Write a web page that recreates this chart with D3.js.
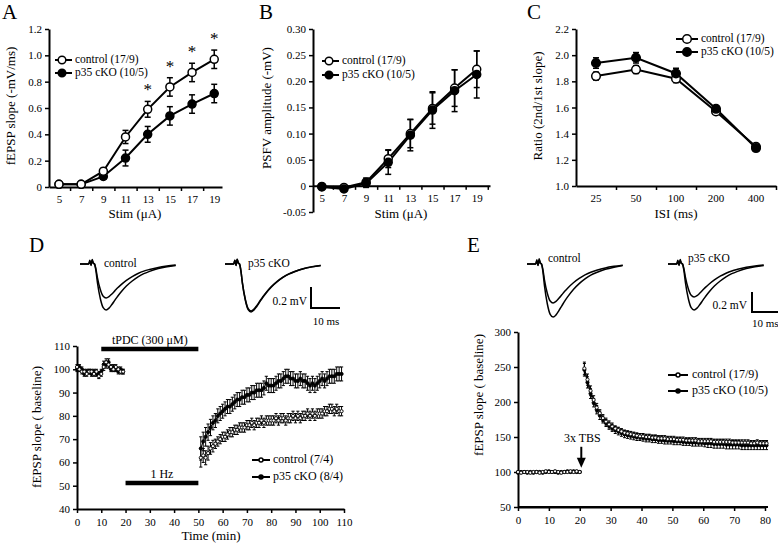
<!DOCTYPE html>
<html><head><meta charset="utf-8">
<script src="https://cdn.jsdelivr.net/npm/d3@7"></script>
<style>
body{margin:0;background:#fff}
svg{display:block}
text{font-family:"Liberation Serif","Times New Roman",serif;fill:#000}
</style>
</head><body>
<svg id="c" width="778" height="543"></svg>
<script>
// ---------------- DATA ----------------
// Panel A: input-output fEPSP slope
const stimLevels = [5, 7, 9, 11, 13, 15, 17, 19];
const aControl    = [0.02, 0.02, 0.12, 0.38, 0.59, 0.76, 0.87, 0.97];
const aControlErr = [0.01, 0.01, 0.02, 0.05, 0.06, 0.07, 0.07, 0.07];
const aCko        = [0.02, 0.02, 0.08, 0.22, 0.40, 0.54, 0.63, 0.71];
const aCkoErr     = [0.01, 0.01, 0.02, 0.06, 0.06, 0.07, 0.07, 0.07];
const aSignificant = [13, 15, 17, 19];
const aYTicks = [0, 0.2, 0.4, 0.6, 0.8, 1.0, 1.2];

// Panel B: PSFV amplitude
const bControl    = [-0.001, -0.003, 0.007, 0.052, 0.100, 0.148, 0.187, 0.223];
const bControlErr = [0.003, 0.003, 0.008, 0.017, 0.027, 0.030, 0.035, 0.035];
const bCko        = [-0.002, -0.006, 0.005, 0.045, 0.097, 0.145, 0.182, 0.213];
const bCkoErr     = [0.003, 0.003, 0.008, 0.023, 0.030, 0.035, 0.040, 0.045];
const bYTicks = [-0.05, 0, 0.05, 0.10, 0.15, 0.20, 0.25, 0.30];

// Panel C: paired-pulse ratio
const isiLabels   = ["25", "50", "100", "200", "400"];
const cControl    = [1.84, 1.89, 1.82, 1.57, 1.30];
const cControlErr = [0.03, 0.03, 0.03, 0.02, 0.02];
const cCko        = [1.94, 1.98, 1.86, 1.59, 1.29];
const cCkoErr     = [0.04, 0.04, 0.04, 0.02, 0.02];
const cYTicks = [1.0, 1.2, 1.4, 1.6, 1.8, 2.0, 2.2];

// Panel D: tPDC + 1 Hz (min, % baseline)
const dBaseTimes = d3.range(0, 20);        // 0..19 min
const dPostTimes = d3.range(51, 110);      // 51..109 min
const dControlBase = [101,100,99,99,98,99,99,98,99,97,98,101,103,102,101,100,101,100,99,99];
const dCkoBase     = [100,101,100,98,99,99,98,99,98,98,99,102,102,103,100,101,100,99,100,99];
const dControlPost = [62,63,62,64,66,67,68,69,70,71,
                      71,72,73,73,74,74,75,75,75,76,
                      76,77,76,77,77,78,77,78,78,78,
                      78,79,78,79,79,78,79,79,80,79,
                      80,79,80,80,81,80,81,80,81,81,
                      81,82,82,83,83,82,83,82,82];
const dCkoPost     = [66,69,71,73,75,77,78,80,81,82,
                      83,84,84,85,86,87,87,88,88,89,
                      89,90,90,91,91,91,92,94,93,93,
                      93,94,95,95,96,97,97,96,96,95,
                      95,96,95,95,94,93,94,93,94,95,
                      96,95,96,97,97,97,98,98,98];
const dBaseErr     = [1,1,1,1,1,1,1,1,1,1,1,1.5,1.5,1.5,1,1,1,1,1,1];
const dControlPostErr = [4,3,3,3,2.5,2.5,2,2,2,2,
                         2,2,2,2,2,2,2,2,2,2,
                         2,2,2,2,2,2,2,2,2,2,
                         2,2,2,2,2,2,2,2,2,2,
                         2,2,2,2,2,2,2,2,2,2,
                         2,2,2,2,2,2,2,2,2];
const dCkoPostErr  = [5,4,4,3.5,3.5,3,3,3,3,3,
                      3,3,3,3,3,3,3,3,3,3,
                      3,3,3,3,3,3,3,3,3,3,
                      3,3,3,3,3,3,3,3,3,3,
                      3,3,3,3,3,3,3,3,3,3,
                      3,3,3,3,3,3,3,3,3];
const dXTicks = [0,10,20,30,40,50,60,70,80,90,100,110];
const dYTicks = [40,50,60,70,80,90,100,110];
const dBars = [ {label: "tPDC (300 \u03BCM)", from: 10, to: 50, level: 108.7},
                {label: "1 Hz",             from: 20, to: 50, level: 51.2} ];

// Panel E: TBS LTP
const eBaseTimes = d3.range(0, 21);           // 0..20 min
const ePostTimes = d3.range(21.5, 81, 1);     // 21.5..80.5 min
const eControlBase = [100,99,100,100,99,100,100,99,100,101,100,100,101,100,99,100,100,101,100,101,100];
const eCkoBase     = [99,100,100,99,100,99,100,100,99,100,101,100,100,99,100,100,101,100,101,100,100];
const eControlPost = [248,232,216,203,192,184,177,172,168,165,
                      162,160,158,156,155,154,153,152,151,151,
                      150,150,149,149,148,148,148,147,147,147,
                      146,146,146,145,145,145,145,144,144,144,
                      144,144,143,143,143,143,143,143,142,142,
                      142,142,142,142,141,141,142,141,141,141];
const eCkoPost     = [246,228,212,199,189,181,175,170,166,163,
                      160,158,156,154,153,152,151,150,150,149,
                      148,148,147,147,146,146,145,145,145,144,
                      144,144,143,143,143,142,142,142,142,141,
                      141,141,140,140,140,140,139,139,139,139,
                      139,138,138,138,138,138,138,138,138,138];
const eBaseErr     = [1.5,1.5,1.5,1.5,1.5,1.5,1.5,1.5,1.5,1.5,1.5,1.5,1.5,1.5,1.5,1.5,1.5,1.5,1.5,1.5,1.5];
const eControlPostErr = [9,8,7,6,6,5,5,5,5,5,
                         4,4,4,4,4,4,4,4,4,4,
                         4,4,4,4,4,4,4,4,4,4,
                         4,4,4,4,4,4,4,4,4,4,
                         4,4,4,4,4,4,4,4,4,4,
                         4,4,4,4,4,4,4,4,4,4];
const eCkoPostErr  = [9,8,7,6,6,6,5,5,5,5,
                      5,5,5,5,5,5,5,5,5,5,
                      5,5,5,5,5,5,5,5,5,5,
                      5,5,5,5,5,5,5,5,5,5,
                      6,6,6,6,6,6,6,6,6,6,
                      6,6,6,6,6,6,6,6,6,6];
const eXTicks = [0,10,20,30,40,50,60,70,80];
const eYTicks = [50,100,150,200,250,300];
const eArrow = {label: "3x TBS", time: 20.5, from: 136, to: 106};

// Example fEPSP traces (ms, normalized shape; amplitudes in mV)
const traceTimes = [0, 2, 3, 3.4, 3.8, 4.2, 4.6, 5, 5.5, 6, 7, 8, 9, 10, 11, 12, 13, 14, 16, 18, 20, 22, 24, 27, 30, 33];
const traceShape = [0, 0, 0, 0.08, -0.03, 0.1, 0.02, 0, -0.15, -0.4, -0.75, -0.95, -1, -0.96, -0.88, -0.79, -0.7, -0.62, -0.48, -0.37, -0.28, -0.21, -0.16, -0.1, -0.06, -0.03];
const dControlAmps = [0.46, 0.34];
const dCkoAmps     = [0.48, 0.47];
const eControlAmps = [0.53, 0.39];
const eCkoAmps     = [0.46, 0.33];

// Legend labels
const legendABC = ["control (17/9)", "p35 cKO (10/5)"];
const legendD   = ["control (7/4)", "p35 cKO (8/4)"];
const legendE   = ["control (17/9)", "p35 cKO (10/5)"];

// ---------------- DRAWING ----------------
const FONT = '"Liberation Serif","Times New Roman",serif';
const svg = d3.select("#c");
svg.append("rect").attr("width", 778).attr("height", 543).attr("fill", "#fff");

function styleAxis(g, fs) {
  g.attr("font-family", FONT).attr("font-size", fs || 11);
  g.select(".domain").attr("stroke", "#000").attr("stroke-width", 2);
  g.selectAll(".tick line").attr("stroke", "#000").attr("stroke-width", 1.5);
  g.selectAll(".tick text").attr("fill", "#000");
}

function yLabel(x, y, txt, fs) {
  svg.append("text").attr("transform", `translate(${x},${y}) rotate(-90)`)
    .attr("text-anchor", "middle").attr("dominant-baseline", "middle")
    .attr("font-size", fs || 13).text(txt);
}
function xLabel(x, y, txt, fs) {
  svg.append("text").attr("x", x).attr("y", y).attr("text-anchor", "middle")
    .attr("font-size", fs || 13).text(txt);
}
function panelLetter(x, y, t) {
  svg.append("text").attr("x", x).attr("y", y).attr("font-size", 21).text(t);
}

function errBars(g, xs, vals, errs, x, y, cap, sw) {
  xs.forEach((xv, i) => {
    const cx = x(xv), y1 = y(vals[i] - errs[i]), y2 = y(vals[i] + errs[i]);
    g.append("line").attr("x1", cx).attr("x2", cx).attr("y1", y1).attr("y2", y2)
      .attr("stroke", "#000").attr("stroke-width", sw);
    [y1, y2].forEach(yy => g.append("line").attr("x1", cx - cap).attr("x2", cx + cap)
      .attr("y1", yy).attr("y2", yy).attr("stroke", "#000").attr("stroke-width", sw));
  });
}
function seriesLine(g, xs, vals, x, y, sw) {
  g.append("path").datum(xs.map((xv, i) => [xv, vals[i]]))
    .attr("fill", "none").attr("stroke", "#000").attr("stroke-width", sw)
    .attr("d", d3.line().x(d => x(d[0])).y(d => y(d[1])));
}
function markers(g, xs, vals, x, y, r, filled, sw) {
  xs.forEach((xv, i) => g.append("circle").attr("cx", x(xv)).attr("cy", y(vals[i])).attr("r", r)
    .attr("fill", filled ? "#000" : "#fff").attr("stroke", "#000").attr("stroke-width", sw));
}
function legend(x0, x1, xm, xt, rows, labels, r, fs, sw) {
  labels.forEach((lab, i) => {
    const yy = rows[i];
    svg.append("line").attr("x1", x0).attr("x2", x1).attr("y1", yy).attr("y2", yy)
      .attr("stroke", "#000").attr("stroke-width", sw);
    svg.append("circle").attr("cx", xm).attr("cy", yy).attr("r", r)
      .attr("fill", i === 0 ? "#fff" : "#000").attr("stroke", "#000").attr("stroke-width", 1.5);
    svg.append("text").attr("x", xt).attr("y", yy).attr("dominant-baseline", "middle")
      .attr("font-size", fs).text(lab);
  });
}

// ---------- Panel A ----------
(function () {
  const x = d3.scaleLinear().domain([4.1, 19.7]).range([49, 222]);
  const y = d3.scaleLinear().domain([0, 1.2]).range([187, 29]);
  const g = svg.append("g");
  const ya = g.append("g").attr("transform", "translate(49,0)")
    .call(d3.axisLeft(y).tickValues(aYTicks).tickSize(4).tickSizeOuter(0)
      .tickFormat(d => d === 0 ? "0" : d.toFixed(1)));
  styleAxis(ya);
  const xa = g.append("g").attr("transform", "translate(0,187)")
    .call(d3.axisBottom(x).tickValues([6, 8, 10, 12, 14, 16, 18]).tickSize(4).tickSizeOuter(0).tickFormat(""));
  styleAxis(xa);
  const xl = g.append("g").attr("transform", "translate(0,187)")
    .call(d3.axisBottom(x).tickValues(stimLevels).tickSize(0).tickPadding(8).tickFormat(d3.format("d")));
  styleAxis(xl); xl.select(".domain").remove();

  errBars(g, stimLevels, aCko, aCkoErr, x, y, 3, 1.5);
  errBars(g, stimLevels, aControl, aControlErr, x, y, 3, 1.5);
  seriesLine(g, stimLevels, aCko, x, y, 2);
  seriesLine(g, stimLevels, aControl, x, y, 2);
  markers(g, stimLevels, aCko, x, y, 4, true, 1.5);
  markers(g, stimLevels, aControl, x, y, 4, false, 1.5);
  aSignificant.forEach(s => {
    const i = stimLevels.indexOf(s);
    g.append("text").attr("x", x(s)).attr("y", y(aControl[i] + aControlErr[i]) - 6)
      .attr("text-anchor", "middle").attr("font-size", 17).text("*");
  });
  legend(55, 72, 62, 75, [60, 73], legendABC, 3.8, 11.5, 2);
  yLabel(12, 106, "fEPSP slope (-mV/ms)");
  xLabel(135, 218, "Stim (\u03BCA)");
  panelLetter(2, 19, "A");
})();

// ---------- Panel B ----------
(function () {
  const x = d3.scaleLinear().domain([4.2, 20.2]).range([313, 490]);
  const y = d3.scaleLinear().domain([-0.05, 0.30]).range([212, 29]);
  const g = svg.append("g");
  const ya = g.append("g").attr("transform", "translate(313,0)")
    .call(d3.axisLeft(y).tickValues(bYTicks).tickSize(4).tickSizeOuter(0)
      .tickFormat(d => Math.abs(d) < 1e-9 ? "0" : d.toFixed(2)));
  styleAxis(ya);
  const xa = g.append("g").attr("transform", `translate(0,${y(0)})`)
    .call(d3.axisBottom(x).tickValues([6, 8, 10, 12, 14, 16, 18, 20]).tickSize(4).tickSizeOuter(0).tickFormat(""));
  styleAxis(xa);
  const xl = g.append("g").attr("transform", `translate(0,${y(0)})`)
    .call(d3.axisBottom(x).tickValues(stimLevels).tickSize(0).tickPadding(8).tickFormat(d3.format("d")));
  styleAxis(xl); xl.select(".domain").remove();

  errBars(g, stimLevels, bCko, bCkoErr, x, y, 3, 1.5);
  errBars(g, stimLevels, bControl, bControlErr, x, y, 3, 1.5);
  seriesLine(g, stimLevels, bControl, x, y, 2);
  seriesLine(g, stimLevels, bCko, x, y, 2);
  markers(g, stimLevels, bControl, x, y, 4, false, 1.5);
  markers(g, stimLevels, bCko, x, y, 4, true, 1.5);
  legend(322, 339, 329, 342, [61, 75], legendABC, 3.8, 11.5, 2);
  yLabel(268, 108, "PSFV amplitude (-mV)");
  xLabel(401, 218, "Stim (\u03BCA)");
  panelLetter(259, 19, "B");
})();

// ---------- Panel C ----------
(function () {
  const x = d3.scaleBand().domain(isiLabels).range([576, 776]);
  const y = d3.scaleLinear().domain([1.0, 2.2]).range([186, 29]);
  const g = svg.append("g");
  const xFn = d => x(d) + x.bandwidth() / 2;
  const ya = g.append("g").attr("transform", "translate(576,0)")
    .call(d3.axisLeft(y).tickValues(cYTicks).tickSize(4).tickSizeOuter(0).tickFormat(d3.format(".1f")));
  styleAxis(ya);
  const xa = g.append("g").attr("transform", "translate(0,186)")
    .call(d3.axisBottom(d3.scaleLinear().domain([0, 5]).range([576, 776]))
      .tickValues([1, 2, 3, 4, 5]).tickSize(4).tickSizeOuter(0).tickFormat(""));
  styleAxis(xa);
  const xl = g.append("g").attr("transform", "translate(0,186)")
    .call(d3.axisBottom(x).tickSize(0).tickPadding(8));
  styleAxis(xl); xl.select(".domain").remove();

  errBars(g, isiLabels, cCko, cCkoErr, xFn, y, 3, 1.5);
  errBars(g, isiLabels, cControl, cControlErr, xFn, y, 3, 1.5);
  seriesLine(g, isiLabels, cControl, xFn, y, 2);
  seriesLine(g, isiLabels, cCko, xFn, y, 2);
  markers(g, isiLabels, cControl, xFn, y, 4.3, false, 1.5);
  markers(g, isiLabels, cCko, xFn, y, 4.3, true, 1.5);
  legend(676, 698, 687, 701, [39, 52], legendABC, 4.3, 11.5, 2);
  yLabel(539, 106, "Ratio (2nd/1st slope)");
  xLabel(676, 218, "ISI (ms)");
  panelLetter(527, 19, "C");
})();

// ---------- traces ----------
function drawTraces(ox, oy, amps) {
  const xT = d3.scaleLinear().domain([0, 10]).range([0, 29]);
  const yT = d3.scaleLinear().domain([0, -0.2]).range([0, 20]);
  amps.forEach(a => {
    svg.append("path").datum(traceTimes.map((t, i) => [t, traceShape[i] * a]))
      .attr("fill", "none").attr("stroke", "#000").attr("stroke-width", 1.5)
      .attr("d", d3.line().x(d => ox + xT(d[0])).y(d => oy + yT(d[1])).curve(d3.curveMonotoneX));
  });
}
function scaleBar(x, yTop, yBot, xRight, mvX, mvY, msX, msY, msAnchor) {
  svg.append("path").attr("d", `M${x},${yTop}V${yBot}H${xRight}`)
    .attr("fill", "none").attr("stroke", "#000").attr("stroke-width", 2);
  svg.append("text").attr("x", mvX).attr("y", mvY).attr("text-anchor", "end").attr("font-size", 11.5).text("0.2 mV");
  svg.append("text").attr("x", msX).attr("y", msY).attr("text-anchor", msAnchor || "middle").attr("font-size", 11).text("10 ms");
}

// ---------- Panel D ----------
(function () {
  const x = d3.scaleLinear().domain([0, 110]).range([77, 344]);
  const y = d3.scaleLinear().domain([40, 110]).range([509, 346]);
  const g = svg.append("g");
  const ya = g.append("g").attr("transform", "translate(77,0)")
    .call(d3.axisLeft(y).tickValues(dYTicks).tickSize(4).tickSizeOuter(0));
  styleAxis(ya);
  const xa = g.append("g").attr("transform", "translate(0,509)")
    .call(d3.axisBottom(x).tickValues(dXTicks).tickSize(4).tickSizeOuter(0).tickPadding(5));
  styleAxis(xa);

  dBars.forEach(b => {
    g.append("line").attr("x1", x(b.from)).attr("x2", x(b.to)).attr("y1", y(b.level)).attr("y2", y(b.level))
      .attr("stroke", "#000").attr("stroke-width", 4.5);
    g.append("text").attr("x", x((b.from + b.to) / 2)).attr("y", y(b.level) - 5)
      .attr("text-anchor", "middle").attr("font-size", 12).text(b.label);
  });

  const segs = [
    [dBaseTimes, dCkoBase, dBaseErr, true],
    [dBaseTimes, dControlBase, dBaseErr, false],
    [dPostTimes, dControlPost, dControlPostErr, false],
    [dPostTimes, dCkoPost, dCkoPostErr, true]
  ];
  segs.forEach(s => errBars(g, s[0], s[1], s[2], x, y, 1.6, 1));
  segs.forEach(s => seriesLine(g, s[0], s[1], x, y, 1));
  segs.forEach(s => markers(g, s[0], s[1], x, y, 1.6, s[3], 0.9));

  legend(252, 270, 261, 273, [460, 477], legendD, 2, 12, 2);
  yLabel(38, 427, "fEPSP slope ( baseline)");
  xLabel(211, 540, "Time (min)");
  panelLetter(29, 252, "D");

  drawTraces(80, 264, dControlAmps);
  drawTraces(225, 264, dCkoAmps);
  svg.append("text").attr("x", 104).attr("y", 267).attr("font-size", 11.5).text("control");
  svg.append("text").attr("x", 248).attr("y", 267).attr("font-size", 11.5).text("p35 cKO");
  scaleBar(311, 287, 308, 340, 307, 305, 326, 325);
})();

// ---------- Panel E ----------
(function () {
  const x = d3.scaleLinear().domain([0, 80]).range([518, 765]);
  const y = d3.scaleLinear().domain([50, 300]).range([507, 332]);
  const g = svg.append("g");
  const ya = g.append("g").attr("transform", "translate(518,0)")
    .call(d3.axisLeft(y).tickValues(eYTicks).tickSize(4).tickSizeOuter(0));
  styleAxis(ya);
  g.append("line").attr("x1", 518).attr("x2", 768).attr("y1", 507).attr("y2", 507)
    .attr("stroke", "#000").attr("stroke-width", 2);
  const xa = g.append("g").attr("transform", "translate(0,507)")
    .call(d3.axisBottom(x).tickValues(eXTicks).tickSize(4).tickSizeOuter(0).tickPadding(5));
  styleAxis(xa);

  const segs = [
    [eBaseTimes, eCkoBase, eBaseErr, true],
    [eBaseTimes, eControlBase, eBaseErr, false],
    [ePostTimes, eCkoPost, eCkoPostErr, true],
    [ePostTimes, eControlPost, eControlPostErr, false]
  ];
  segs.forEach(s => errBars(g, s[0], s[1], s[2], x, y, 1.5, 1));
  segs.forEach(s => seriesLine(g, s[0], s[1], x, y, 1));
  segs.forEach(s => markers(g, s[0], s[1], x, y, 1.6, s[3], 0.9));

  // arrow
  g.append("line").attr("x1", x(eArrow.time)).attr("x2", x(eArrow.time))
    .attr("y1", y(eArrow.from)).attr("y2", y(eArrow.to) - 8).attr("stroke", "#000").attr("stroke-width", 2);
  const ax = x(eArrow.time), ay = y(eArrow.to);
  g.append("path").attr("d", `M${ax - 4.5},${ay - 10}L${ax + 4.5},${ay - 10}L${ax},${ay}Z`).attr("fill", "#000");
  g.append("text").attr("x", ax + 1).attr("y", y(eArrow.from) - 5).attr("text-anchor", "middle")
    .attr("font-size", 12).text(eArrow.label);

  legend(668, 688, 678, 692, [375, 391], legendE, 2, 12, 2);
  yLabel(480, 395, "fEPSP slope ( baseline)");
  panelLetter(467, 252, "E");

  drawTraces(527, 264, eControlAmps);
  drawTraces(668, 264, eCkoAmps);
  svg.append("text").attr("x", 548).attr("y", 262).attr("font-size", 11.5).text("control");
  svg.append("text").attr("x", 688).attr("y", 262).attr("font-size", 11.5).text("p35 cKO");
  scaleBar(752, 292, 312, 781, 747, 309, 752, 327, "start");
})();
</script>
</body></html>
